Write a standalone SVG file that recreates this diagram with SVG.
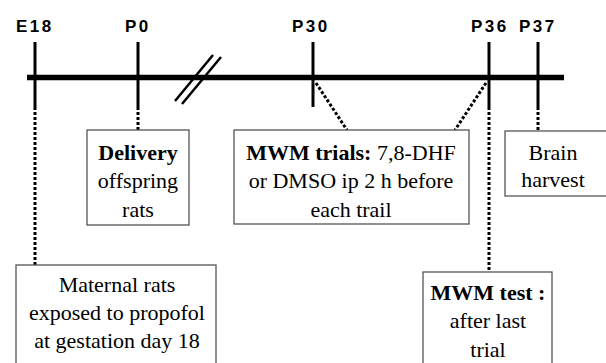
<svg xmlns="http://www.w3.org/2000/svg" width="606" height="363" viewBox="0 0 606 363">
<style>
.lbl{font-family:"Liberation Sans",Arial,sans-serif;font-weight:bold;font-size:17px;letter-spacing:2.5px;fill:#000}
.txt{font-family:"Liberation Serif","Times New Roman",serif;font-size:22px;fill:#000;text-anchor:middle}
.b{font-weight:bold}
.box{fill:#fff;stroke:#555;stroke-width:1.3}
.tick{stroke:#000;stroke-width:3;fill:none}
.dot{stroke:#000;stroke-width:3;stroke-dasharray:3 2;fill:none}
</style>
<rect width="606" height="363" fill="#fff"/>
<g id="connectors">
<line class="dot" x1="35" y1="107" x2="35" y2="265"/>
<line class="dot" x1="138" y1="107" x2="138" y2="130"/>
<line class="dot" x1="316" y1="83" x2="347" y2="130"/>
<line class="dot" x1="486" y1="83" x2="455" y2="130"/>
<line class="dot" x1="489" y1="107" x2="489" y2="272"/>
<line class="dot" x1="538" y1="107" x2="538" y2="131"/>
</g>
<g id="timeline">
<line x1="27" y1="77.5" x2="564" y2="77.5" stroke="#000" stroke-width="5.5"/>
<line class="tick" x1="35" y1="42" x2="35" y2="107"/>
<line class="tick" x1="138" y1="42" x2="138" y2="107"/>
<line class="tick" x1="313" y1="42" x2="313" y2="107"/>
<line class="tick" x1="489" y1="42" x2="489" y2="107"/>
<line class="tick" x1="538" y1="42" x2="538" y2="107"/>
<line x1="175" y1="101" x2="213" y2="55" stroke="#000" stroke-width="2.5"/>
<line x1="182" y1="104" x2="221" y2="57" stroke="#000" stroke-width="2.5"/>
</g>
<g id="labels">
<text class="lbl" x="16" y="32">E18</text>
<text class="lbl" x="125" y="32">P0</text>
<text class="lbl" x="292" y="32">P30</text>
<text class="lbl" x="471" y="32">P36</text>
<text class="lbl" x="519" y="32">P37</text>
</g>
<g id="delivery">
<rect class="box" x="87" y="130" width="102" height="95"/>
<text class="txt b" x="138" y="160">Delivery</text>
<text class="txt" x="138" y="188">offspring</text>
<text class="txt" x="138" y="217">rats</text>
</g>
<g id="mwm-trials">
<rect class="box" x="234" y="130" width="235" height="94"/>
<text class="txt" x="351" y="160"><tspan class="b">MWM trials:</tspan> 7,8-DHF</text>
<text class="txt" x="351" y="188">or DMSO ip 2 h before</text>
<text class="txt" x="351" y="217">each trail</text>
</g>
<g id="brain">
<rect class="box" x="505" y="131" width="110" height="65"/>
<text class="txt" x="553" y="160">Brain</text>
<text class="txt" x="553" y="187">harvest</text>
</g>
<g id="maternal">
<rect class="box" x="16" y="265" width="200" height="110"/>
<text class="txt" x="117" y="292">Maternal rats</text>
<text class="txt" x="117" y="320">exposed to propofol</text>
<text class="txt" x="117" y="348">at gestation day 18</text>
</g>
<g id="mwm-test">
<rect class="box" x="423" y="272" width="129" height="100"/>
<text class="txt b" x="488" y="300">MWM test :</text>
<text class="txt" x="488" y="328">after last</text>
<text class="txt" x="488" y="357">trial</text>
</g>
</svg>
